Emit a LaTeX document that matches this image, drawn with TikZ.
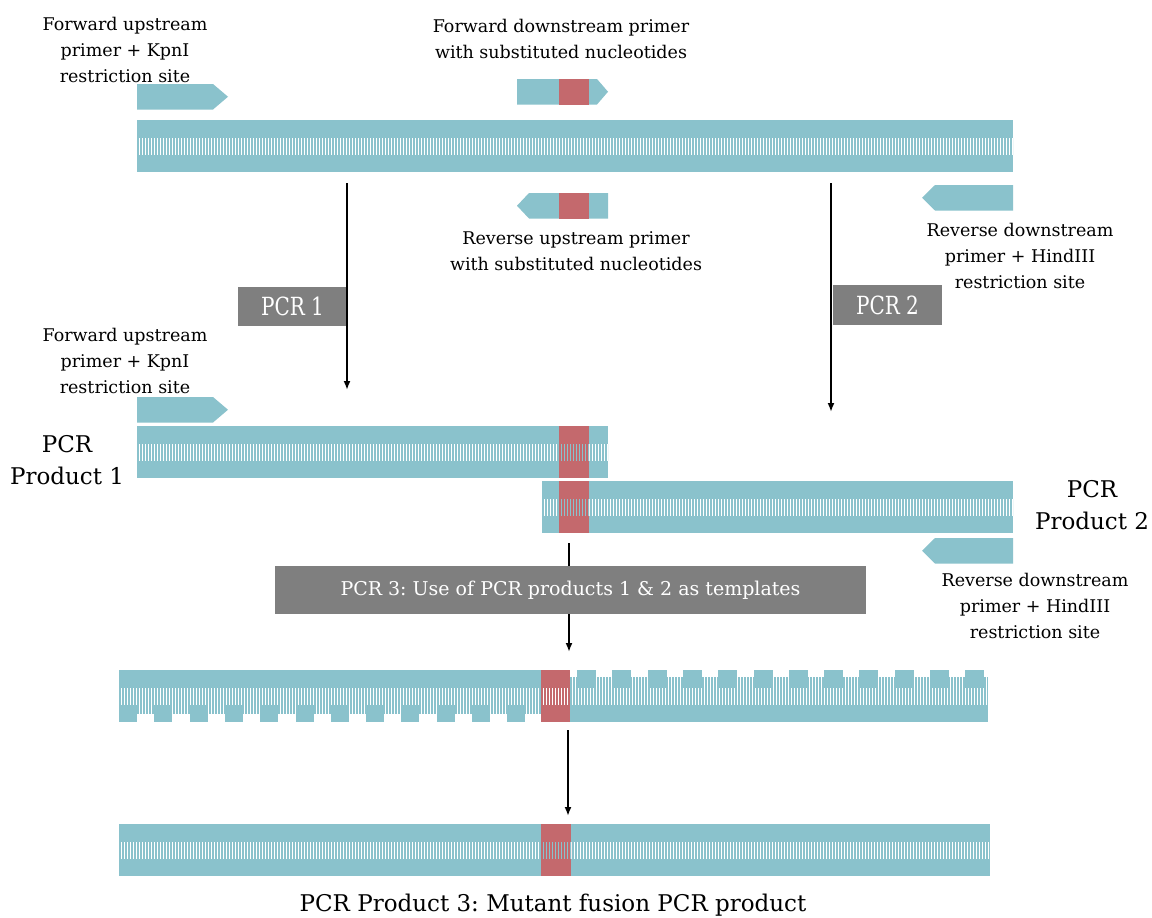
\documentclass[tikz,border=0pt]{standalone}
\usepackage{fontspec}
\setmainfont{DejaVu Serif}
\newfontfamily\boxfont[FakeStretch=0.8]{DejaVu Serif}
\usetikzlibrary{arrows.meta}
\definecolor{dnablue}{HTML}{8AC2CC}
\definecolor{mutred}{HTML}{C4696D}
\definecolor{boxgray}{HTML}{7F7F7F}
\frenchspacing
% double-stranded DNA segment: colour, x1, x2, ytop (height 52)
\newcommand\dnaseg[4]{%
  \fill[#1] (#2,#4) rectangle (#3,#4+17.5);
  \fill[#1] (#2,#4+34.5) rectangle (#3,#4+52);
  \draw[hatchline=#1, line width=17pt] (#2,#4+26) -- (#3,#4+26);
}
% forward primer: x1, xhead, xtip, ytop
\newcommand\fwdprimer[4]{%
  \fill[dnablue] (#1,#4) -- (#2,#4) -- (#3,#4+12.75) -- (#2,#4+25.5) -- (#1,#4+25.5) -- cycle;}
% reverse primer: xtip, xhead, x2, ytop
\newcommand\revprimer[4]{%
  \fill[dnablue] (#1,#4+12.75) -- (#2,#4) -- (#3,#4) -- (#3,#4+25.5) -- (#2,#4+25.5) -- cycle;}
\begin{document}
\begin{tikzpicture}[x=1pt,y=-1pt,
  lbl/.style={align=center, inner sep=0pt, font=\fontsize{17.5}{26}\selectfont},
  big/.style={align=center, inner sep=0pt, font=\fontsize{23}{32}\selectfont},
  pcrbox/.style={fill=boxgray, text=white, inner sep=0pt},
  flow/.style={line width=1.9pt, -{Latex[length=9pt,width=7pt]}},
  hatchline/.style={draw=#1, dash pattern=on 1.7pt off 1.3pt}
]
\fill[white] (0,0) rectangle (1152,918);
\useasboundingbox (0,0) rectangle (1152,918);

% ---------- top template ----------
\fwdprimer{137}{213}{228}{84}
\fwdprimer{517}{597}{608}{79}
\fill[mutred] (559,79) rectangle (589,104.5);
\dnaseg{dnablue}{137}{1013}{120}
\revprimer{517}{529}{608}{193}
\fill[mutred] (559,193) rectangle (589,218.5);
\revprimer{922}{935}{1013}{185}

\node[lbl] (fu1) at (125,50) {Forward upstream\\primer + KpnI\\restriction site};
\node[lbl] (fd) at (561,39) {Forward downstream primer\\with substituted nucleotides};
\node[lbl] (ru) at (576,251) {Reverse upstream primer\\with substituted nucleotides};
\node[lbl] (rd1) at (1020,256) {Reverse downstream\\primer + HindIII\\restriction site};

% ---------- PCR 1 and PCR 2 ----------
\node[pcrbox, minimum width=109pt, minimum height=39pt, font=\boxfont\fontsize{25}{25}\selectfont] (pcr1) at (292.5,306.5) {PCR 1};
\node[pcrbox, minimum width=109pt, minimum height=40pt, font=\boxfont\fontsize{25}{25}\selectfont] (pcr2) at (887.5,305) {PCR 2};
\coordinate (a1s) at (347,183); \coordinate (a1e) at (347,390);
\coordinate (a2s) at (831,183); \coordinate (a2e) at (831,412);
\draw[flow] (a1s) -- (a1e);
\draw[flow] (a2s) -- (a2e);

% ---------- PCR products 1 and 2 ----------
\node[lbl] (fu2) at (125,361) {Forward upstream\\primer + KpnI\\restriction site};
\fwdprimer{137}{213}{228}{397}
\dnaseg{dnablue}{137}{608}{426}
\dnaseg{mutred}{559}{589}{426}
\dnaseg{dnablue}{542}{1013}{481}
\dnaseg{mutred}{559}{589}{481}
\node[big] (p1) at (67,460) {PCR\\Product 1};
\node[big] (p2) at (1092,505) {PCR\\Product 2};
\revprimer{922}{935}{1013}{538}
\node[lbl] (rd2) at (1035,606) {Reverse downstream\\primer + HindIII\\restriction site};

% ---------- PCR 3 ----------
\coordinate (a3s) at (569,543); \coordinate (a3e) at (569,652);
\draw[flow] (a3s) -- (a3e);
\node[pcrbox, minimum width=591pt, minimum height=48pt, font=\fontsize{19}{19}\selectfont] (pcr3) at (570.5,590) {PCR 3: Use of PCR products 1 \& 2 as templates};

% heteroduplex with new strands being completed
\fill[dnablue] (119,670) rectangle (541,687.5);
\draw[hatchline=dnablue, line width=26pt] (119,701) -- (541,701);
\foreach \k in {0,...,11} \fill[dnablue] ({119+35.3*\k},705) rectangle ({137+35.3*\k},722);
\dnaseg{mutred}{541}{570}{670}
\fill[dnablue] (570,704.5) rectangle (988,722);
\draw[hatchline=dnablue, line width=28pt] (570,691) -- (988,691);
\foreach \k in {0,...,11} \fill[dnablue] ({577+35.3*\k},670) rectangle ({596+35.3*\k},687.5);

\coordinate (a4s) at (568,730); \coordinate (a4e) at (568,816);
\draw[flow] (a4s) -- (a4e);

% ---------- PCR product 3 ----------
\dnaseg{dnablue}{119}{990}{824}
\dnaseg{mutred}{541}{571}{824}
\node[big] (p3) at (553,905) {PCR Product 3: Mutant fusion PCR product};
\end{tikzpicture}
\end{document}
